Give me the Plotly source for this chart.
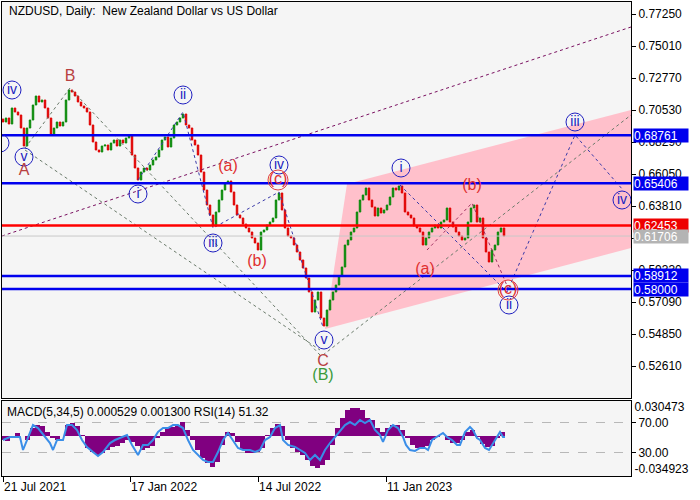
import plotly.graph_objects as go

FONT = "Liberation Sans"

# ---------------- data ----------------
closes = [
    0.6969, 0.6997, 0.6955, 0.7067, 0.7039, 0.7018, 0.6927, 0.6801, 0.6927, 0.6983,
    0.7088, 0.7151, 0.7109, 0.7123, 0.7067, 0.6997, 0.6878, 0.6927, 0.6969, 0.6941,
    0.6969, 0.7123, 0.7193, 0.7179, 0.7151, 0.7109, 0.7081, 0.7067, 0.7039, 0.6948,
    0.6829, 0.6773, 0.6759, 0.6801, 0.6808, 0.6773, 0.6822, 0.6843, 0.6801, 0.6843,
    0.6822, 0.6857, 0.6878, 0.6738, 0.6647, 0.6563, 0.6619, 0.6647, 0.6633, 0.6668,
    0.6703, 0.6724, 0.6773, 0.6843, 0.6864, 0.6794, 0.6857, 0.6948, 0.6969, 0.6997,
    0.7025, 0.6948, 0.6927, 0.6843, 0.6808, 0.6738, 0.6619, 0.6493, 0.6388, 0.6318,
    0.6241, 0.6339, 0.6423, 0.6493, 0.6542, 0.6556, 0.6479, 0.6388, 0.6318, 0.6297,
    0.6255, 0.6227, 0.6199, 0.6157, 0.6122, 0.6073, 0.6199, 0.6213, 0.6248, 0.6269,
    0.6297, 0.6423, 0.6472, 0.6353, 0.6227, 0.6171, 0.6157, 0.6108, 0.6059, 0.6003,
    0.5947, 0.5877, 0.5779, 0.5639, 0.5723, 0.5779, 0.5597, 0.5541, 0.5653, 0.5723,
    0.5779, 0.5828, 0.5891, 0.5954, 0.6108, 0.6143, 0.6199, 0.6227, 0.6339, 0.6423,
    0.6458, 0.6507, 0.6423, 0.6374, 0.6311, 0.6367, 0.6332, 0.6353, 0.6388, 0.6444,
    0.6507, 0.6493, 0.6521, 0.6472, 0.6339, 0.6318, 0.6297, 0.6241, 0.6227, 0.6199,
    0.6108, 0.6157, 0.6199, 0.6227, 0.6248, 0.6227, 0.6269, 0.6283, 0.6367, 0.6269,
    0.6234, 0.6199, 0.6171, 0.6143, 0.6157, 0.6269, 0.6367, 0.6388, 0.6269, 0.6297,
    0.6157, 0.6059, 0.5989, 0.6073, 0.6108, 0.6199, 0.6227, 0.6171,
]
first_open = 0.6990
bar_step = 3  # each drawn candle stands for three daily bars

date_tick_bars = [1, 128, 256, 384]
date_labels = ["21 Jul 2021", "17 Jan 2022", "14 Jul 2022", "11 Jan 2023"]

price_ticks = [0.77250, 0.75010, 0.72770, 0.70530, 0.68290, 0.66050,
               0.63810, 0.61570, 0.59330, 0.57090, 0.54850, 0.52610]

level_prices = [0.68761, 0.65406, 0.62453, 0.61706, 0.58912, 0.58000]
level_colors = ["#0000ee", "#0000ee", "#ff0000", "#c8c8c8", "#0000ee", "#0000ee"]
level_widths = [2.5, 2.5, 2.5, 1, 2.5, 2.5]
level_box_colors = ["#0000ee", "#0000ee", "#ee0000", "#b4b4b4", "#0000ee", "#0000ee"]

macd_bars = list(range(0, 506, 5))
macd_hist = [
    -0.0042, -0.0053, -0.0011, 0.0032, 0.0000, -0.0042, 0.0084, 0.0116, 0.0106, 0.0042,
    -0.0021, -0.0042, 0.0000, 0.0116, 0.0137, 0.0106, 0.0011, -0.0127, -0.0169, -0.0200,
    -0.0179, -0.0148, -0.0116, -0.0106, -0.0074, -0.0042, -0.0063, -0.0106, -0.0148, -0.0127,
    -0.0106, -0.0021, 0.0042, 0.0084, 0.0095, 0.0116, 0.0148, 0.0063, -0.0042, -0.0148,
    -0.0232, -0.0285, -0.0327, -0.0274, -0.0095, 0.0042, 0.0032, -0.0063, -0.0148, -0.0179,
    -0.0179, -0.0169, -0.0127, 0.0011, 0.0084, 0.0127, 0.0106, -0.0042, -0.0127, -0.0169,
    -0.0200, -0.0253, -0.0317, -0.0338, -0.0306, -0.0253, -0.0095, 0.0084, 0.0190, 0.0274,
    0.0295, 0.0295, 0.0274, 0.0190, 0.0169, 0.0084, 0.0042, 0.0084, 0.0116, 0.0116,
    0.0063, -0.0021, -0.0095, -0.0127, -0.0127, -0.0106, -0.0042, -0.0011, 0.0000, -0.0042,
    -0.0074, -0.0074, -0.0042, 0.0042, 0.0063, -0.0011, -0.0084, -0.0116, -0.0106, -0.0021,
    0.0042, 0.0005,
]

rsi_bars = [1, 8, 18, 21, 25, 31, 36, 43, 48, 51, 55, 61, 65, 70, 75, 80, 85, 91, 96, 101,
            108, 113, 118, 125, 130, 136, 141, 146, 151, 156, 161, 166, 171, 176, 181, 186,
            191, 196, 201, 206, 211, 216, 221, 226, 231, 236, 241, 248, 253, 258, 263, 268,
            273, 278, 281, 286, 293, 298, 303, 308, 313, 318, 323, 328, 333, 338, 343, 348,
            353, 358, 363, 368, 373, 378, 381, 386, 391, 396, 401, 404, 408, 413, 418, 423,
            426, 430, 435, 441, 445, 450, 455, 458, 463, 468, 471, 475, 478, 483, 487, 493,
            498, 501, 503]
rsi_vals = [47.3, 51.3, 51.3, 34.0, 47.3, 67.3, 63.3, 51.3, 43.3, 34.0, 47.3, 47.3, 67.3,
            67.3, 60.7, 47.3, 38.0, 31.3, 26.0, 31.3, 43.3, 47.3, 50.0, 54.0, 40.7, 27.3,
            40.7, 40.7, 47.3, 58.0, 63.3, 63.3, 67.3, 67.3, 63.3, 47.3, 34.0, 27.3, 20.7,
            18.0, 18.0, 31.3, 47.3, 56.7, 47.3, 36.7, 34.0, 34.0, 31.3, 34.0, 47.3, 51.3,
            63.3, 67.3, 47.3, 40.7, 38.0, 34.0, 30.0, 20.7, 27.3, 20.7, 34.0, 43.3, 51.3,
            60.7, 67.3, 71.3, 67.3, 74.0, 70.0, 74.0, 60.7, 54.0, 44.7, 60.7, 67.3, 63.3,
            51.3, 40.7, 34.0, 32.7, 36.7, 36.7, 34.0, 47.3, 51.3, 56.7, 51.3, 47.3, 40.7,
            40.7, 58.0, 64.7, 60.7, 50.0, 47.3, 36.7, 34.0, 47.3, 58.0, 51.3, 51.32]

# wave labels (bar index, price)
circ_text = ["iv", "i", "v", "ii", "i", "iii", "iv", "v", "i", "ii", "iii", "iv"]
circ_bar = [10, -2, 22, 181, 136, 211, 277, 322, 399, 507, 573, 620]
circ_price = [0.7193, 0.6822, 0.6724, 0.7158, 0.6465, 0.6122, 0.6668, 0.5443,
              0.6647, 0.5688, 0.6969, 0.6423]

red_text = ["(a)", "(b)", "(c)", "(a)", "(b)", "(c)"]
red_bar = [226, 255, 276, 423, 470, 506]
red_price = [0.6654, 0.5989, 0.6563, 0.5933, 0.6521, 0.5793]

big_text = ["A", "B", "C"]
big_bar = [22, 68, 321]
big_price = [0.6626, 0.7284, 0.5289]

green_text = ["(B)"]
green_bar = [321]
green_price = [0.5191]

# channel (pink) corners
chan_bar = [323, 345, 629, 629]
chan_price = [0.5520, 0.6535, 0.7053, 0.6087]

# dashed wave paths: (bars, prices, colour)
paths = [
    ([23, 68, 318], [0.6787, 0.7207, 0.5338], "#6a7a6a"),
    ([23, 318], [0.6773, 0.5373], "#6a7a6a"),
    ([321, 629], [0.5338, 0.7018], "#6a7a6a"),
    ([136, 181, 211, 277, 321], [0.6563, 0.7039, 0.6227, 0.6479, 0.5534], "#3a3aa8"),
    ([398, 505, 573, 621], [0.6528, 0.5779, 0.6878, 0.6493], "#3a3aa8"),
    ([425, 470, 506], [0.6073, 0.6402, 0.5807], "#a03060"),
]
trend_bar = [0, 629]
trend_price = [0.6171, 0.7634]

# ---------------- figure ----------------
opens = [first_open] + closes[:-1]
bars = [1 + bar_step * i for i in range(len(closes))]
highs = [max(o, c) for o, c in zip(opens, closes)]
lows = [min(o, c) for o, c in zip(opens, closes)]

UP = "#0a8a0a"
DN = "#e00000"

fig = go.Figure()

fig.add_trace(go.Candlestick(
    x=bars, open=opens, high=highs, low=lows, close=closes,
    increasing=dict(line=dict(color=UP, width=1), fillcolor=UP),
    decreasing=dict(line=dict(color=DN, width=1), fillcolor=DN),
    whiskerwidth=0, xaxis="x", yaxis="y", showlegend=False, hoverinfo="skip"))

# trend line
fig.add_trace(go.Scatter(x=trend_bar, y=trend_price, mode="lines",
                         line=dict(color="#7a1060", width=1, dash="3px,3px"),
                         xaxis="x", yaxis="y", showlegend=False, hoverinfo="skip"))
for pb, pp, col in paths:
    fig.add_trace(go.Scatter(x=pb, y=pp, mode="lines",
                             line=dict(color=col, width=1, dash="3px,3px"),
                             xaxis="x", yaxis="y", showlegend=False, hoverinfo="skip"))

# horizontal levels
for p, c, w in zip(level_prices, level_colors, level_widths):
    fig.add_trace(go.Scatter(x=[0, 629], y=[p, p], mode="lines",
                             line=dict(color=c, width=w),
                             xaxis="x", yaxis="y", showlegend=False, hoverinfo="skip"))

# circled wave labels
fig.add_trace(go.Scatter(
    x=circ_bar, y=circ_price, mode="markers+text", text=circ_text,
    textposition="middle center",
    textfont=dict(family=FONT, size=14, color="#2020c0"),
    marker=dict(symbol="circle-open", size=18, color="#2020c0", line=dict(width=1)),
    xaxis="x", yaxis="y", showlegend=False, hoverinfo="skip"))

# (c) dashed red circles
fig.add_trace(go.Scatter(
    x=[red_bar[2], red_bar[5]], y=[red_price[2], red_price[5]], mode="markers",
    marker=dict(symbol="circle-open", size=20, color="#e04040", line=dict(width=1)),
    xaxis="x", yaxis="y", showlegend=False, hoverinfo="skip"))

fig.add_trace(go.Scatter(
    x=red_bar, y=red_price, mode="text", text=red_text, textposition="middle center",
    textfont=dict(family=FONT, size=16, color="#e03030"),
    xaxis="x", yaxis="y", showlegend=False, hoverinfo="skip"))
fig.add_trace(go.Scatter(
    x=big_bar, y=big_price, mode="text", text=big_text, textposition="middle center",
    textfont=dict(family=FONT, size=16, color="#b84040"),
    xaxis="x", yaxis="y", showlegend=False, hoverinfo="skip"))
fig.add_trace(go.Scatter(
    x=green_bar, y=green_price, mode="text", text=green_text, textposition="middle center",
    textfont=dict(family=FONT, size=16, color="#3a9a3a"),
    xaxis="x", yaxis="y", showlegend=False, hoverinfo="skip"))

# MACD histogram + RSI
fig.add_trace(go.Bar(x=macd_bars, y=macd_hist, width=5,
                     marker=dict(color="#800080", line=dict(width=0)),
                     xaxis="x2", yaxis="y2", showlegend=False, hoverinfo="skip"))
fig.add_trace(go.Scatter(x=rsi_bars, y=rsi_vals, mode="lines",
                         line=dict(color="#3a8ee8", width=2),
                         xaxis="x2", yaxis="y3", showlegend=False, hoverinfo="skip"))

# pink channel
path = "M {} {} L {} {} L {} {} L {} {} Z".format(
    chan_bar[0], chan_price[0], chan_bar[1], chan_price[1],
    chan_bar[2], chan_price[2], chan_bar[3], chan_price[3])
shapes = [dict(type="path", path=path, xref="x", yref="y",
               fillcolor="#ffc0cb", line=dict(width=0), layer="below")]

annotations = [
    dict(text="NZDUSD, Daily:  New Zealand Dollar vs US Dollar", xref="paper", yref="paper",
         x=0.008, y=0.981, xanchor="left", yanchor="middle", showarrow=False,
         font=dict(family=FONT, size=12, color="black")),
    dict(text="MACD(5,34,5) 0.000529 0.001300 RSI(14) 51.32", xref="paper", yref="paper",
         x=0.005, y=0.135, xanchor="left", yanchor="middle", showarrow=False,
         font=dict(family=FONT, size=12, color="black")),
]
for p, bc in zip(level_prices, level_box_colors):
    annotations.append(dict(
        text="{:.5f}".format(p), xref="paper", yref="y", x=1.0032, y=p,
        xanchor="left", yanchor="middle", showarrow=False, bgcolor=bc,
        borderpad=0, width=54, height=13, align="left",
        font=dict(family=FONT, size=12, color="white")))

axis_common = dict(showline=True, linecolor="black", linewidth=1, mirror=True,
                   showgrid=False, zeroline=False, fixedrange=True)

fig.update_layout(
    width=700, height=500,
    margin=dict(l=2, r=69, t=2, b=24),
    paper_bgcolor="white", plot_bgcolor="#f5f5f5",
    font=dict(family=FONT, size=12, color="black"),
    showlegend=False, bargap=0,
    shapes=shapes, annotations=annotations,
    xaxis=dict(domain=[0, 1], range=[0, 629], anchor="y", showticklabels=False,
               rangeslider=dict(visible=False), ticks="", **axis_common),
    yaxis=dict(domain=[0.16456, 1], range=[0.5037, 0.7809], anchor="x", side="right",
               tickvals=price_ticks, ticktext=["{:.5f}".format(v) for v in price_ticks],
               ticks="outside", ticklen=4, tickcolor="black", **axis_common),
    xaxis2=dict(domain=[0, 1], range=[0, 629], anchor="y2", matches="x",
                tickvals=date_tick_bars, ticktext=date_labels, ticks="outside",
                ticklen=5, tickcolor="black", ticklabelposition="outside right",
                **axis_common),
    yaxis2=dict(domain=[0, 0.15823], range=[-0.0422, 0.0369], anchor="x2", side="right",
                tickvals=[0.030473, -0.034923], ticktext=["0.030473", "-0.034923"],
                ticks="", **axis_common),
    yaxis3=dict(range=[-0.67, 99.33], overlaying="y2", anchor="x2", side="right",
                tickvals=[70, 30], ticktext=["70.00", "30.00"], ticks="outside",
                ticklen=4, tickcolor="black", showgrid=True, gridcolor="#b8b8b8",
                griddash="dash", gridwidth=1, zeroline=False, showline=False,
                fixedrange=True),
)

fig.write_html("out.html",
               config={"displayModeBar": False, "staticPlot": True},
               post_script="document.body.style.margin='0';document.body.style.overflow='hidden';")
